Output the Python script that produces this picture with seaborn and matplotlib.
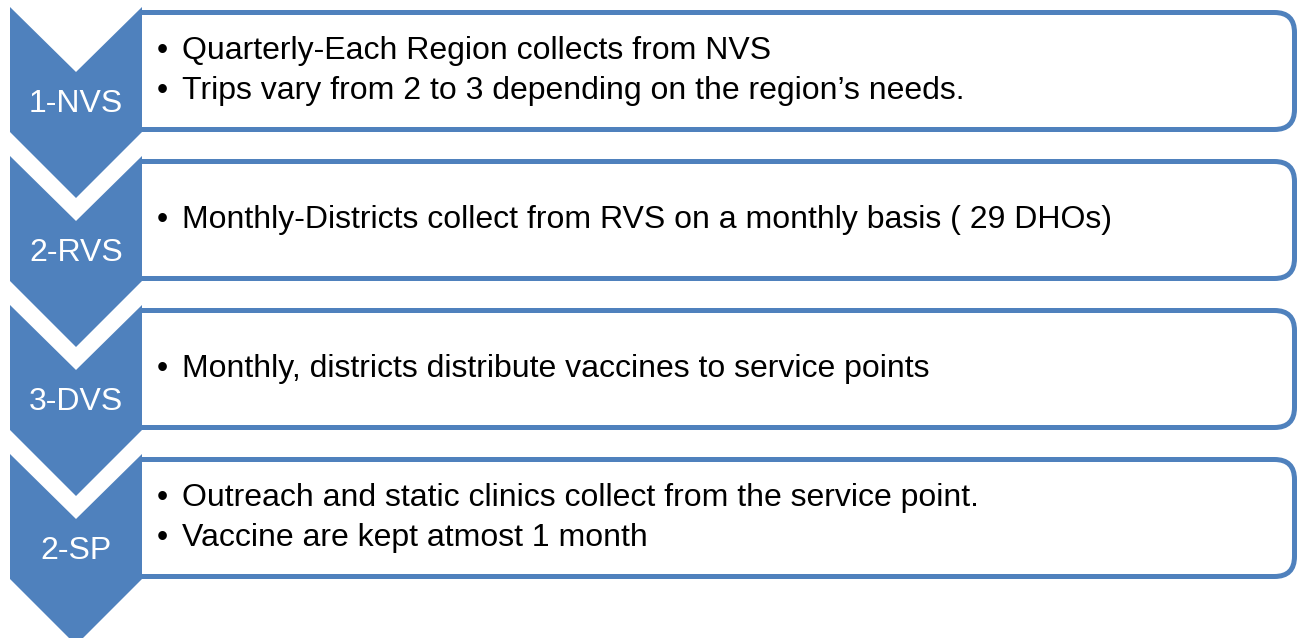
import matplotlib
matplotlib.use("Agg")
import matplotlib.pyplot as plt
from matplotlib.patches import Polygon, FancyBboxPatch, Rectangle
import seaborn as sns

# stage labels and bullet text for each step
stages = ["1-NVS", "2-RVS", "3-DVS", "2-SP"]
bullets = [
    ["Quarterly-Each Region collects from NVS",
     "Trips vary from 2 to 3 depending on the region\u2019s needs."],
    ["Monthly-Districts collect from RVS on a monthly basis ( 29 DHOs)"],
    ["Monthly, districts distribute vaccines to service points"],
    ["Outreach and static clinics collect from the service point.",
     "Vaccine are kept atmost 1 month"],
]

sns.set_style("white")
plt.rcParams["font.family"] = ["Liberation Sans", "DejaVu Sans"]

blue = "#4F81BD"
W, H = 1301, 638
fig = plt.figure(figsize=(W / 100, H / 100), dpi=100)
ax = fig.add_axes([0, 0, 1, 1])
ax.set_xlim(0, W)
ax.set_ylim(H, 0)
ax.axis("off")

pitch = 149
fs = 23
for i, (stage, lines) in enumerate(zip(stages, bullets)):
    # rounded text box, left part hidden behind the chevron
    btop = 12.5 + pitch * i
    box = FancyBboxPatch((60, btop), 1294.5 - 60, 117,
                         boxstyle="round,pad=0,rounding_size=20",
                         fc="white", ec=blue, lw=3.6, zorder=1)
    ax.add_patch(box)
    clip = Rectangle((142, 0), W, H, transform=ax.transData)
    box.set_clip_path(clip)

    # chevron pointing down
    top = 7 + pitch * i
    x0, x1, xm = 10, 142, 76
    pts = [(x0, top), (xm, top + 65), (x1, top), (x1, top + 125),
           (xm, top + 191), (x0, top + 125)]
    ax.add_patch(Polygon(pts, closed=True, fc=blue, ec="none", zorder=2))
    ax.text(xm, top + 97, stage, color="white", fontsize=fs,
            ha="center", va="center", zorder=3)

    # bullet lines
    n = len(lines)
    cy = btop + 58.5
    for j, line in enumerate(lines):
        y = cy + (j - (n - 1) / 2) * 40
        ax.text(162, y, "\u2022", color="black", fontsize=fs,
                ha="center", va="center", zorder=3)
        ax.text(182, y, line, color="black", fontsize=fs,
                ha="left", va="center", zorder=3)

fig.savefig("out.png", dpi=100)
